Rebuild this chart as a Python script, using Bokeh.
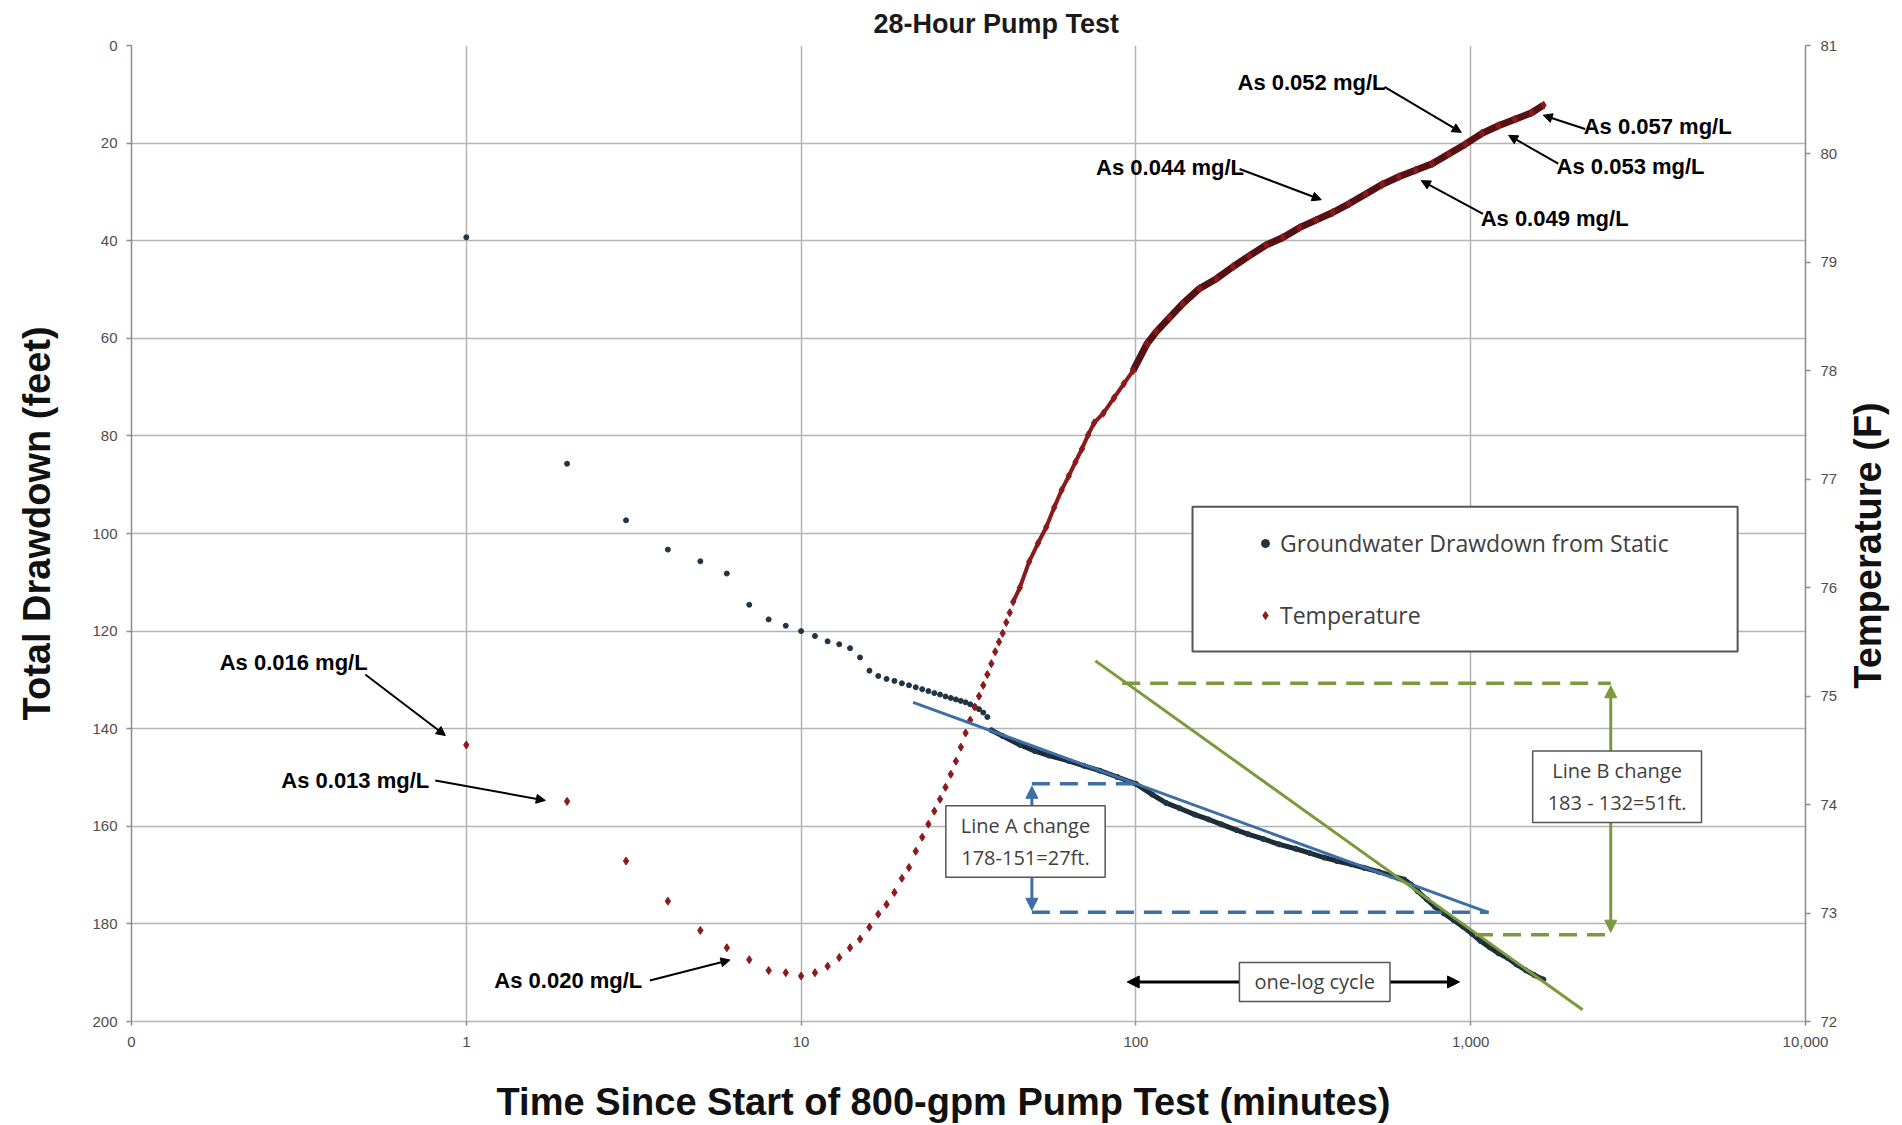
import math
from bokeh.plotting import figure
from bokeh.layouts import row, column
from bokeh.models import (Range1d, LinearAxis, FixedTicker, Legend, LegendItem,
                          Label, Arrow, NormalHead, BoxAnnotation)
from bokeh.embed import file_html
from bokeh.resources import INLINE

# ---------------- data ----------------
x_ticks = [0.1, 1, 10, 100, 1000, 10000]
x_tick_labels = ["0", "1", "10", "100", "1,000", "10,000"]
dd_ticks = [0, 20, 40, 60, 80, 100, 120, 140, 160, 180, 200]
temp_ticks = [72, 73, 74, 75, 76, 77, 78, 79, 80, 81]

# Groundwater drawdown (feet) - early readings, one per minute
dd_early_min = list(range(1, 37))
dd_early_ft = [39.3, 85.7, 97.3, 103.3, 105.7, 108.2, 114.6, 117.6, 118.9, 120.0,
               121.0, 122.1, 122.7, 123.5, 125.4, 128.1, 129.2, 129.8, 130.2, 130.7,
               131.1, 131.5, 131.9, 132.3, 132.7, 133.0, 133.4, 133.7, 134.0, 134.3,
               134.6, 135.0, 135.5, 136.0, 136.7, 137.6]
# Groundwater drawdown (feet) - dense logger record
dd_late_min = [37, 40, 45, 50, 55, 63, 70, 78, 88, 100, 112, 123, 135, 150, 165, 180,
               200, 216, 240, 268, 300, 331, 365, 398, 440, 480, 530, 578, 633, 665,
               694, 740, 782, 830, 888, 950, 1008, 1070, 1140, 1210, 1290, 1370, 1460,
               1550, 1650]
dd_late_ft = [140.3, 141.5, 143.3, 144.6, 145.5, 146.6, 147.6, 148.6, 149.9, 151.3,
              153.5, 155.2, 156.3, 157.6, 158.6, 159.6, 160.8, 161.6, 162.6, 163.7,
              164.6, 165.5, 166.4, 167.1, 167.8, 168.5, 169.3, 170.1, 170.9, 172.0,
              173.3, 175.0, 176.5, 177.8, 179.2, 180.6, 182.0, 183.5, 184.8, 186.0,
              187.0, 188.3, 189.5, 190.5, 191.4]

# Temperature (F) - early readings, one per minute
temp_early_min = list(range(1, 44))
temp_early_f = [74.55, 74.03, 73.48, 73.11, 72.84, 72.68, 72.57, 72.47, 72.45, 72.42,
                72.45, 72.51, 72.59, 72.68, 72.76, 72.87, 72.99, 73.08, 73.19, 73.32,
                73.42, 73.57, 73.70, 73.82, 73.94, 74.05, 74.16, 74.28, 74.40, 74.53,
                74.66, 74.78, 74.90, 75.00, 75.10, 75.20, 75.30, 75.41, 75.50, 75.58,
                75.68, 75.77, 75.87]
# Temperature (F) - dense logger record
temp_late_min = [45, 48, 51, 54, 57, 60, 63, 66, 69, 72, 75, 80, 86, 92, 98, 108, 115,
                 126, 138, 155, 174, 195, 218, 245, 275, 308, 345, 387, 433, 486, 545,
                 610, 684, 767, 860, 964, 1081, 1210, 1357, 1520, 1650]
temp_late_f = [76.00, 76.24, 76.41, 76.56, 76.74, 76.90, 77.03, 77.16, 77.28, 77.41,
               77.52, 77.61, 77.75, 77.88, 78.00, 78.25, 78.36, 78.49, 78.62, 78.76,
               78.85, 78.96, 79.06, 79.16, 79.23, 79.32, 79.39, 79.46, 79.54, 79.63,
               79.72, 79.79, 79.85, 79.91, 80.00, 80.09, 80.19, 80.26, 80.32, 80.38,
               80.45]

# Arsenic sample annotations: label, text position (min, ft), arrow start, arrow end
as_labels = ["As 0.016 mg/L", "As 0.013 mg/L", "As 0.020 mg/L", "As 0.052 mg/L",
             "As 0.044 mg/L", "As 0.049 mg/L", "As 0.053 mg/L", "As 0.057 mg/L"]
as_text_min = [0.305, 0.466, 2.017, 334.6, 126.5, 1781, 3003, 3618]
as_text_ft = [126.4, 150.6, 191.6, 7.5, 24.9, 35.5, 24.8, 16.6]
as_arrow_x0 = [0.499, 0.808, 3.534, 552.7, 204, 1088, 1826, 2197]
as_arrow_y0 = [128.9, 150.6, 191.6, 8.5, 25.3, 34.5, 24.2, 17.1]
as_arrow_x1 = [0.866, 1.722, 6.133, 937.4, 357.8, 712, 1298, 1646]
as_arrow_y1 = [141.4, 154.7, 187.4, 17.8, 31.6, 27.7, 18.4, 14.3]

# Straight-line fits drawn on the chart
line_a_min = [21.6, 1131]
line_a_ft = [134.6, 177.7]
line_b_min = [75.7, 2159]
line_b_ft = [126.1, 197.6]

# ---------------- styling ----------------
DD_COLOR = "#1f3445"
DD_BAND = "#1c2b38"
T_COLOR = "#8b1a1c"
T_BAND = "#561013"
BLUE = "#3d6ea6"
GREEN = "#7b9a3d"
GRID = "#b4b4b4"
AX = "#8c8c8c"
TICK_FONT = "Liberation Sans"
TITLE_FONT = "Liberation Sans"

W_TOTAL, H_TOTAL = 1900, 1125
H_TOP = 1060          # height of the row holding the chart
W_SIDE = 60           # width of the strips holding the vertical axis titles

p = figure(width=W_TOTAL - 2 * W_SIDE, height=H_TOP, x_axis_type="log",
           x_range=Range1d(0.1, 10000), y_range=Range1d(200, 0),
           output_backend="svg", toolbar_location=None,
           min_border_left=71, min_border_right=35, min_border_top=45,
           min_border_bottom=39, title="28-Hour Pump Test")
p.outline_line_color = None
p.background_fill_color = "white"
p.border_fill_color = "white"

p.title.text_font = TITLE_FONT
p.title.text_font_size = "27px"
p.title.text_font_style = "bold"
p.title.text_color = "#1a1a1a"
p.title.align = "left"
p.title.offset = 742
p.title.standoff = 12
p.title.vertical_align = "middle"

p.extra_y_ranges = {"temp": Range1d(72, 81)}

xax = p.xaxis[0]
yax = p.yaxis[0]
xax.ticker = FixedTicker(ticks=x_ticks)
xax.major_label_overrides = dict(zip(x_ticks, x_tick_labels))
yax.ticker = FixedTicker(ticks=dd_ticks)
rax = LinearAxis(y_range_name="temp", ticker=FixedTicker(ticks=temp_ticks))
p.add_layout(rax, "right")

for ax in (xax, yax, rax):
    ax.axis_line_color = AX
    ax.axis_line_width = 1.5
    ax.major_tick_line_color = AX
    ax.major_tick_line_width = 1.5
    ax.major_tick_in = 0
    ax.major_tick_out = 5
    ax.minor_tick_line_color = None
    ax.major_label_text_font = TICK_FONT
    ax.major_label_text_font_size = "15px"
    ax.major_label_text_color = "#4d4d4d"

xax.axis_line_color = GRID
xax.major_tick_out = 4
xax.major_label_standoff = 11
yax.major_label_standoff = 9
rax.major_label_standoff = 10

p.xgrid.grid_line_color = GRID
p.xgrid.grid_line_width = 1.5
p.ygrid.grid_line_color = GRID
p.ygrid.grid_line_width = 1.5

# ---------------- series ----------------
p.line(dd_late_min, dd_late_ft, line_width=5, color=DD_BAND)
r_dd = p.scatter(dd_early_min + dd_late_min, dd_early_ft + dd_late_ft,
                 size=5, marker="circle", color=DD_COLOR)

n_mid = 15  # dense temperature readings up to ~100 min are thinner (separate dots)
p.line(temp_early_min[-1:] + temp_late_min[:n_mid], temp_early_f[-1:] + temp_late_f[:n_mid],
       line_width=4, color=T_COLOR, y_range_name="temp")
p.line(temp_late_min[n_mid - 1:], temp_late_f[n_mid - 1:],
       line_width=7, color=T_BAND, y_range_name="temp")
r_t = p.scatter(temp_early_min + temp_late_min, temp_early_f + temp_late_f,
                size=8, marker="diamond", color=T_COLOR, y_range_name="temp")

# ---------------- fitted lines & dashed guides ----------------
p.line(line_a_min, line_a_ft, line_width=3, color=BLUE)
p.line(line_b_min, line_b_ft, line_width=3, color=GREEN)
p.line([48.9, 100], [151.3, 151.3], line_width=3.5, color=BLUE, line_dash="18 10")
p.line([48.9, line_a_min[1]], [177.6, 177.6], line_width=3.5, color=BLUE, line_dash="18 10")
p.line([91, 2620], [130.7, 130.7], line_width=3.5, color=GREEN, line_dash="18 10")
p.line([1030, 2620], [182.2, 182.2], line_width=3.5, color=GREEN, line_dash="18 10")

def head(c, s):
    return NormalHead(size=s, fill_color=c, line_color=c)

p.add_layout(Arrow(start=head(BLUE, 12), end=head(BLUE, 12), x_start=48.9, y_start=151.8,
                   x_end=48.9, y_end=177.2, line_color=BLUE, line_width=3))
p.add_layout(Arrow(start=head(GREEN, 12), end=head(GREEN, 12), x_start=2620, y_start=131.2,
                   x_end=2620, y_end=181.7, line_color=GREEN, line_width=3))
p.add_layout(Arrow(start=head("black", 12), end=head("black", 12), x_start=94.2, y_start=191.9,
                   x_end=926, y_end=191.9, line_color="black", line_width=3))

box_style = dict(text_font="Open Sans", text_font_size="20px", text_color="#3f3f3f",
                 text_align="center", text_baseline="middle",
                 background_fill_color="white", background_fill_alpha=1.0,
                 border_line_color="#555555", border_line_width=1.5,
                 padding=dict(left=15, right=15, top=6, bottom=6))
p.add_layout(Label(x=46.8, y=163.1, text="Line A change\n178-151=27ft.", **box_style))
p.add_layout(Label(x=2737, y=151.9, text="Line B change\n183 - 132=51ft.", **box_style))
p.add_layout(Label(x=342, y=191.9, text="one-log cycle", **box_style))

# ---------------- arsenic annotations ----------------
for lab, tx, ty, x0, y0, x1, y1 in zip(as_labels, as_text_min, as_text_ft,
                                       as_arrow_x0, as_arrow_y0, as_arrow_x1, as_arrow_y1):
    p.add_layout(Label(x=tx, y=ty, text=lab, text_font="Liberation Sans",
                       text_font_size="22px", text_font_style="bold", text_color="black",
                       text_align="center", text_baseline="middle"))
    p.add_layout(Arrow(end=head("black", 9), x_start=x0, y_start=y0, x_end=x1, y_end=y1,
                       line_color="black", line_width=2))

# ---------------- legend ----------------
p.add_layout(BoxAnnotation(left=147.6, right=6270, top=94.5, bottom=124.2,
                           fill_color="white", fill_alpha=1.0,
                           line_color="#555555", line_width=2, line_alpha=1.0))
legend = Legend(items=[LegendItem(label="Groundwater Drawdown from Static", renderers=[r_dd]),
                       LegendItem(label="Temperature", renderers=[r_t])],
                location=(1105, 369), orientation="vertical",
                label_text_font="Open Sans", label_text_font_size="23px",
                label_text_color="#404040", label_height=36, glyph_height=36,
                glyph_width=20, spacing=36, padding=19, label_standoff=5,
                border_line_alpha=0, background_fill_alpha=0)
p.add_layout(legend)

# ---------------- axis titles, each in its own strip ----------------
def strip(w, h):
    s = figure(width=w, height=h, x_range=Range1d(0, w), y_range=Range1d(h, 0),
               x_axis_location=None, y_axis_location=None, output_backend="svg",
               toolbar_location=None, min_border=0)
    s.outline_line_color = None
    s.grid.visible = False
    return s

axis_title_style = dict(text_font=TITLE_FONT, text_font_size="38px", text_font_style="bold",
                        text_color="#111111", text_align="center", text_baseline="middle")

left_strip = strip(W_SIDE, H_TOP)
left_strip.add_layout(Label(x=36, y=519, text="Total Drawdown (feet)", angle=math.pi / 2,
                            **axis_title_style))
right_strip = strip(W_SIDE, H_TOP)
right_strip.add_layout(Label(x=27, y=543, text="Temperature (F)", angle=math.pi / 2,
                             **axis_title_style))
bottom_strip = strip(W_TOTAL, H_TOTAL - H_TOP)
bottom_strip.add_layout(Label(x=943, y=41, text="Time Since Start of 800-gpm Pump Test (minutes)",
                              **axis_title_style))

layout = column(row(left_strip, p, right_strip, spacing=0), bottom_strip, spacing=0)
open("out.html", "w").write(file_html(layout, INLINE))
